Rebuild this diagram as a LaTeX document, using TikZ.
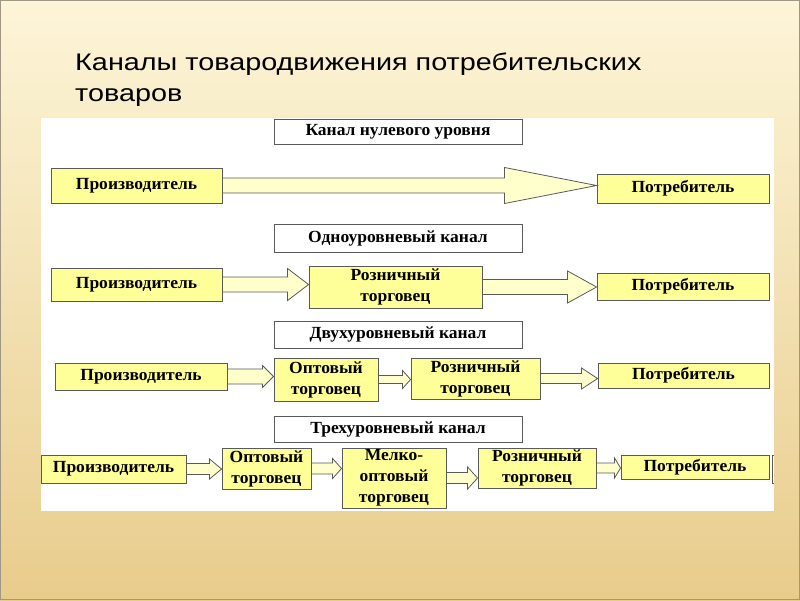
\documentclass[tikz,border=0pt]{standalone}
\usepackage{fontspec}
\setmainfont[FakeStretch=1.03]{Liberation Serif}
\newfontfamily\titlefont[FakeStretch=1.2]{Liberation Sans}
\usetikzlibrary{calc}

\definecolor{boxfill}{RGB}{255,255,153}
\definecolor{arrowfill}{RGB}{255,255,204}
\definecolor{boxline}{RGB}{90,90,90}
\definecolor{slidetop}{RGB}{253,245,216}
\definecolor{slidebottom}{RGB}{232,204,140}

% fat arrow from #1 to #2: shaft half width, head half width, head length
\newcommand\blockarrow[5]{
\draw[flow] let \p1=(#1.east), \p2=(#2.west) in
  (\x1,\y1+#3pt) -- (\x2-#5pt,\y1+#3pt) -- (\x2-#5pt,\y1+#4pt) -- (\x2,\y1)
  -- (\x2-#5pt,\y1-#4pt) -- (\x2-#5pt,\y1-#3pt) -- (\x1,\y1-#3pt) -- cycle;}

\begin{document}
\begin{tikzpicture}[x=1pt,y=-1pt,
  box/.style={draw=boxline, fill=boxfill, line width=0.9pt, inner sep=0pt, align=center,
    font=\bfseries\fontsize{17}{21}\selectfont},
  header/.style={box, fill=white},
  flow/.style={draw=boxline, fill=arrowfill, line width=0.8pt, line join=miter},
  title/.style={font=\titlefont\fontsize{24}{31}\selectfont, align=left, inner sep=0pt}]
\useasboundingbox (0,0) rectangle (800,600);
\shade[top color=slidetop, bottom color=slidebottom] (0,0) rectangle (800,600);
\draw[gray!70!slidebottom, line width=1pt] (0.5,0.5) rectangle (799.5,599.5);
\node[title, anchor=base west] (ttl) at (75,101) {Каналы товародвижения потребительских\\товаров};
\fill[white] (41,118) rectangle (774,511);

% headers
\node[header, minimum width=248, minimum height=25] (h1) at (398,131.5) {Канал нулевого уровня};
\node[header, minimum width=248, minimum height=28] (h2) at (398,238) {Одноуровневый канал};
\node[header, minimum width=248, minimum height=27] (h3) at (398,334.5) {Двухуровневый канал};
\node[header, minimum width=248, minimum height=26] (h4) at (398,429) {Трехуровневый канал};

% zero level
\node[box, minimum width=171, minimum height=35] (prod1) at (136.5,185.5) {Производитель};
\node[box, minimum width=172, minimum height=29] (cons1) at (683,188.5) {Потребитель};
\blockarrow{prod1}{cons1}{7.5}{18}{92}

% one level
\node[box, minimum width=171, minimum height=33] (prod2) at (136.5,284.5) {Производитель};
\node[box, minimum width=173, minimum height=42] (ret2) at (395.5,287) {Розничный\\торговец};
\node[box, minimum width=172, minimum height=27] (cons2) at (683,286.5) {Потребитель};
\blockarrow{prod2}{ret2}{7.5}{16}{21}
\blockarrow{ret2}{cons2}{7.5}{16}{29}

% two levels
\node[box, minimum width=172, minimum height=27] (prod3) at (141,376.5) {Производитель};
\node[box, minimum width=104, minimum height=43] (whol3) at (326,379.5) {Оптовый\\торговец};
\node[box, minimum width=129, minimum height=41] (ret3) at (475.5,378.5) {Розничный\\торговец};
\node[box, minimum width=171, minimum height=25] (cons3) at (683.5,375.5) {Потребитель};
\blockarrow{prod3}{whol3}{7.5}{11}{11}
\blockarrow{whol3}{ret3}{4}{9}{8}
\blockarrow{ret3}{cons3}{5}{10.5}{16}

% three levels
\node[box, minimum width=145, minimum height=28] (prod4) at (113.5,469) {Производитель};
\node[box, minimum width=89, minimum height=41] (whol4) at (266.5,468.5) {Оптовый\\торговец};
\node[box, minimum width=104, minimum height=60] (small4) at (394,478) {Мелко-\\оптовый\\торговец};
\node[box, minimum width=118, minimum height=40] (ret4) at (537,468) {Розничный\\торговец};
\node[box, minimum width=148, minimum height=24] (cons4) at (695,467) {Потребитель};
\blockarrow{prod4}{whol4}{5.5}{10}{12}
\blockarrow{whol4}{small4}{5.5}{10}{9}
\blockarrow{small4}{ret4}{5.5}{11}{10}
\blockarrow{ret4}{cons4}{5}{10}{6}
\draw[boxline, line width=0.8pt] (774,455) -- (772,455) -- (772,483) -- (774,483);
\end{tikzpicture}
\end{document}
